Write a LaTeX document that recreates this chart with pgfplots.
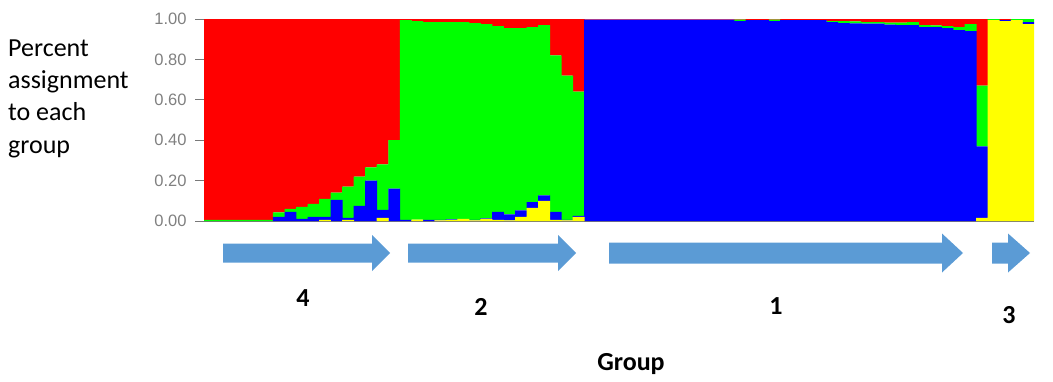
\documentclass[border=0pt]{standalone}
\usepackage{pgfplots}
\usepackage{pgfplotstable}
\pgfplotsset{compat=1.18}
\usepackage{fontspec}
\setmainfont{Carlito}
\newfontfamily\tickfont{Liberation Sans}

\definecolor{kY}{RGB}{255,255,0}
\definecolor{kB}{RGB}{0,0,255}
\definecolor{kG}{RGB}{0,255,0}
\definecolor{kR}{RGB}{255,0,0}
\definecolor{arrowblue}{RGB}{91,155,213}
\definecolor{axisgrey}{RGB}{120,120,120}

% Membership coefficients per individual (K = 4), stacked yellow, blue, green, red
\pgfplotstableread{
idx  yel    blu    grn    red
0    0      0      0.005  0.995
1    0      0      0.005  0.995
2    0      0      0.005  0.995
3    0      0      0.005  0.995
4    0      0      0.005  0.995
5    0      0      0.005  0.995
6    0      0.020  0.023  0.957
7    0      0.045  0.015  0.940
8    0      0.010  0.060  0.930
9    0      0.020  0.065  0.915
10   0.005  0.015  0.090  0.890
11   0      0.105  0.035  0.860
12   0.005  0.010  0.155  0.830
13   0      0.075  0.145  0.780
14   0      0.200  0.065  0.735
15   0.015  0.040  0.225  0.720
16   0      0.160  0.240  0.600
17   0      0.005  0.990  0.005
18   0.007  0      0.983  0.010
19   0      0.005  0.980  0.015
20   0.003  0.003  0.979  0.015
21   0.005  0.003  0.977  0.015
22   0.010  0      0.975  0.015
23   0.003  0.003  0.974  0.020
24   0.010  0.003  0.962  0.025
25   0.005  0.040  0.920  0.035
26   0.003  0.030  0.922  0.045
27   0.020  0.033  0.902  0.045
28   0.065  0.028  0.867  0.040
29   0.100  0.027  0.843  0.030
30   0.005  0.040  0.775  0.180
31   0.003  0.003  0.714  0.280
32   0.020  0.005  0.615  0.360
33   0      0.997  0      0.003
34   0      0.997  0      0.003
35   0      0.997  0      0.003
36   0      0.997  0      0.003
37   0      0.997  0      0.003
38   0      0.997  0      0.003
39   0      0.997  0      0.003
40   0      0.997  0      0.003
41   0      0.997  0      0.003
42   0      0.997  0      0.003
43   0      0.997  0      0.003
44   0      0.997  0      0.003
45   0      0.997  0      0.003
46   0      0.990  0.007  0.003
47   0      0.995  0      0.005
48   0      0.995  0      0.005
49   0      0.990  0.007  0.003
50   0      0.995  0      0.005
51   0      0.995  0      0.005
52   0      0.995  0      0.005
53   0      0.995  0      0.005
54   0      0.985  0.005  0.010
55   0      0.980  0.010  0.010
56   0      0.978  0.010  0.012
57   0      0.977  0.008  0.015
58   0      0.977  0.008  0.015
59   0      0.972  0.010  0.018
60   0      0.970  0.012  0.018
61   0      0.970  0.015  0.015
62   0      0.960  0.010  0.030
63   0      0.960  0.008  0.032
64   0      0.955  0.010  0.035
65   0      0.945  0.015  0.040
66   0      0.940  0.035  0.025
67   0.015  0.355  0.300  0.330
68   0.995  0      0.005  0
69   0.990  0.005  0      0.005
70   0.995  0      0.005  0
71   0.975  0.010  0.015  0
}\assign

\begin{document}
\begin{tikzpicture}[x=1pt,y=1pt]
\useasboundingbox (0,0) rectangle (1053,381);

\begin{axis}[
  at={(204pt,160pt)}, anchor=south west,
  width=830pt, height=202pt, scale only axis,
  ybar stacked, bar width=1.03,
  xmin=-0.5, xmax=71.5, ymin=0, ymax=1,
  enlargelimits=false,
  axis x line*=bottom, axis y line*=left,
  axis line style={axisgrey, line width=0.7pt},
  xtick=\empty,
  ytick={0,0.2,0.4,0.6,0.8,1},
  tick align=outside, major tick length=9pt,
  tick style={axisgrey, line width=0.7pt},
  yticklabel style={
    /pgf/number format/fixed,
    /pgf/number format/fixed zerofill,
    /pgf/number format/precision=2,
    /pgf/number format/assume math mode=true,
    xshift=-5pt},
  tick label style={font=\tickfont\fontsize{16.5}{16.5}\selectfont, text=black!50},
]
\addplot[fill=kY, draw=none] table[x=idx, y=yel] {\assign};
\addplot[fill=kB, draw=none] table[x=idx, y=blu] {\assign};
\addplot[fill=kG, draw=none] table[x=idx, y=grn] {\assign};
\addplot[fill=kR, draw=none] table[x=idx, y=red] {\assign};
\end{axis}

% side caption
\begin{scope}[every node/.style={anchor=base west, inner sep=0pt, font=\fontsize{26}{26}\selectfont}]
\node at (8,324) {Percent};
\node at (8,292) {assignment};
\node at (8,260) {to each};
\node at (8,228) {group};
\end{scope}

% group arrows
\fill[arrowblue] (223,118.5) -- (372,118.5) -- (372,110) -- (390,128) -- (372,146) -- (372,137.5) -- (223,137.5) -- cycle;
\fill[arrowblue] (408,118.5) -- (558,118.5) -- (558,110) -- (576,128) -- (558,146) -- (558,137.5) -- (408,137.5) -- cycle;
\fill[arrowblue] (609,117.5) -- (942,117.5) -- (942,108.5) -- (963,128) -- (942,147.5) -- (942,138.5) -- (609,138.5) -- cycle;
\fill[arrowblue] (992,117.5) -- (1008,117.5) -- (1008,108.5) -- (1030,128) -- (1008,147.5) -- (1008,138.5) -- (992,138.5) -- cycle;

% group numbers
\begin{scope}[every node/.style={inner sep=0pt, font=\bfseries\fontsize{26}{26}\selectfont}]
\node at (303,83) {4};
\node at (481,74) {2};
\node at (776,75) {1};
\node at (1009,66) {3};
\node at (631,17) {Group};
\end{scope}
\end{tikzpicture}
\end{document}
